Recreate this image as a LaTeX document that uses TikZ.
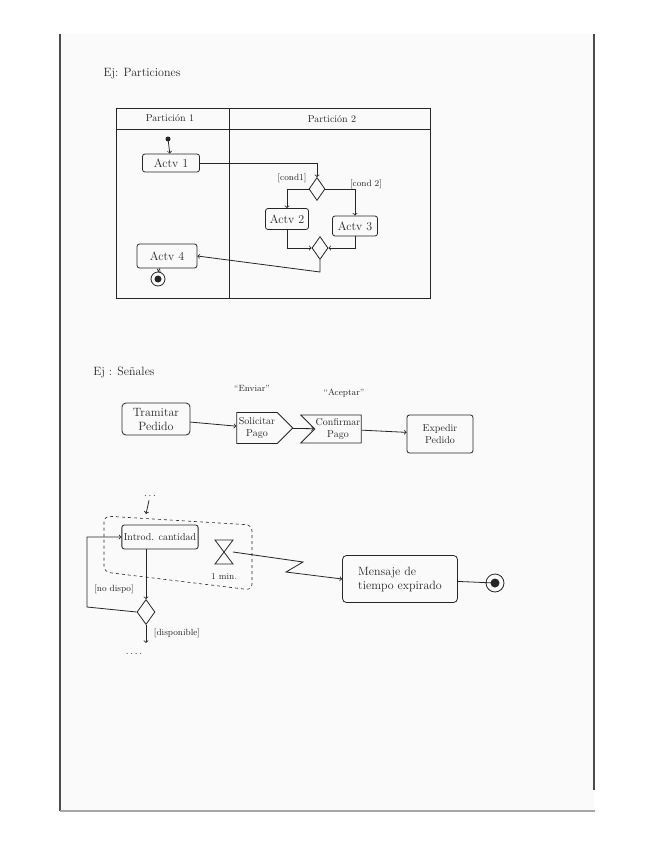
\documentclass[tikz,border=0pt]{standalone}
\usetikzlibrary{shapes.geometric,shapes.symbols}
\tikzset{
  actv/.style={draw,rounded corners=2.5pt,inner sep=2pt,font=\normalsize},
  decision/.style={draw,diamond,inner sep=0pt,minimum width=16,minimum height=23},
  labelcond/.style={font=\small},
}
\begin{document}
\begin{tikzpicture}[x=1pt,y=-1pt,line width=0.8pt,black!85]
    % hoja
    \useasboundingbox (0,0) rectangle (655,848);
    \fill[white] (0,0) rectangle (655,848);
    \fill[gray!4] (59,34) rectangle (594,811);
    \draw[gray!60!black,line width=1.3pt] (60,34) -- (60,811);
    \draw[black!70,line width=2.4pt] (594,34) -- (594,790);
    \draw[gray!70,line width=1.6pt] (60,811) -- (595,811);

    % Ej: Particiones
    \node[font=\large] (titulo1) at (142,74) {Ej: Particiones};
    \draw (116,108) rectangle (430,298);
    \draw (116,129) -- (430,129);
    \draw (229,108) -- (229,298);
    \node (part1) at (170,118) {Partición 1};
    \node (part2) at (332,119) {Partición 2};

    \fill (168,139) circle (2.5) coordinate (ini);
    \node[actv,font=\large,minimum width=57,minimum height=18] (a1) at (171,163) {Actv 1};
    \node[decision] (d1) at (317,189) {};
    \node[actv,font=\large,minimum width=43,minimum height=21] (a2) at (287,219) {Actv 2};
    \node[actv,font=\large,minimum width=45,minimum height=20] (a3) at (355,226) {Actv 3};
    \node[decision] (d2) at (320,248) {};
    \node[actv,font=\large,minimum width=60,minimum height=24] (a4) at (167,256) {Actv 4};
    \draw (158,279) circle (7) coordinate (fin1);
    \fill (158,279) circle (3.5);
    \coordinate (codo) at (320,272);

    \draw[->] (ini) -- (a1);
    \draw[->] (a1.east) -| (d1.north);
    \draw[->] (d1.west) -| (a2.north);
    \draw[->] (d1.east) -| (a3.north);
    \draw[->] (a2.south) |- (d2.west);
    \draw[->] (a3.south) |- (d2.east);
    \draw[->] (d2.south) -- (codo) -- (a4.east);
    \draw[->] (a4) -- (158,272);
    \node[labelcond] (c1) at (292,178) {[cond1]};
    \node[labelcond] (c2) at (366,184) {[cond 2]};

    % Ej: Senales
    \node[font=\large] (titulo2) at (124,372) {Ej : Señales};
    \node[actv,font=\large,rounded corners=4pt,minimum width=68,minimum height=32,align=center] (tramitar) at (156,419) {Tramitar\\Pedido};
    \node[draw,signal,signal to=east,minimum width=56,minimum height=31,inner sep=1pt,align=center] (solicitar) at (257,428) {Solicitar\\Pago};
    \node[draw,signal,signal to=nowhere,signal from=west,minimum width=60,minimum height=28,inner sep=1pt,align=center] (confirmar) at (338,429) {Confirmar\\Pago};
    \node[actv,minimum width=66,minimum height=38,align=center] (expedir) at (440,434) {Expedir\\Pedido};
    \node[labelcond] (enviar) at (252,388) {``Enviar''};
    \node[labelcond] (aceptar) at (344,393) {``Aceptar''};

    \draw[->] (tramitar) -- (solicitar);
    \draw[->] (solicitar) -- (confirmar);
    \draw[->] (confirmar) -- (expedir);

    % region interrumpible
    \node (puntos1) at (150,496) {.\,.\,.};
    \coordinate (entrada) at (146,514);
    \draw[dashed,rounded corners=6pt,line width=0.6pt] (104,516) -- (252,525) -- (252,590) -- (104,572) -- cycle;
    \node[actv,minimum width=76,minimum height=24] (introd) at (160,537) {Introd. cantidad};
    \coordinate (reloj) at (224,552);
    \draw (215,540) -- (233,540) -- (215,564) -- (233,564) -- cycle;
    \node[labelcond] (unmin) at (224,576) {1 min.};
    \node[actv,font=\large,rounded corners=4pt,minimum width=115,minimum height=47,align=left] (mensaje) at (400,579) {Mensaje de\\tiempo expirado};
    \draw (495,583) circle (9) coordinate (fin2);
    \fill (495,583) circle (4.5);
    \node[decision,minimum width=18,minimum height=25] (d3) at (146,612) {};
    \coordinate (vuelta) at (87,607);
    \coordinate (salida) at (146,643);
    \node (puntos2) at (134,654) {.\,.\,.\,.};
    \node[labelcond] (nodispo) at (114,589) {[no dispo]};
    \node[labelcond] (dispo) at (177,633) {[disponible]};

    \draw[->] (puntos1) -- (entrada);
    \draw[->] (introd.south -| d3.north) -- (d3.north);
    \draw[->] (d3.west) -- (vuelta) |- (introd.west);
    \draw[->] (d3.south) -- (salida);
    \draw[->] (233,552) -- (303,562) -- (286,572) -- (mensaje.west);
    \draw[->] (mensaje) -- (fin2);
\end{tikzpicture}
\end{document}
